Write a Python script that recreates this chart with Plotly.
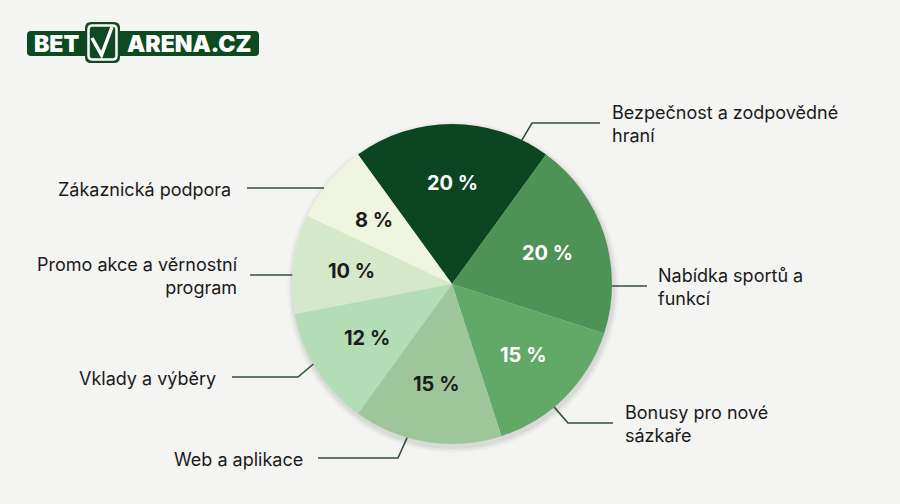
import plotly.graph_objects as go
import math

# ---- data ----
categories = ["Bezpečnost a zodpovědné hraní", "Nabídka sportů a funkcí", "Bonusy pro nové sázkaře",
              "Web a aplikace", "Vklady a výběry", "Promo akce a věrnostní program", "Zákaznická podpora"]
label_text = ["Bezpečnost a zodpovědné<br>hraní", "Nabídka sportů a<br>funkcí", "Bonusy pro nové<br>sázkaře",
              "Web a aplikace", "Vklady a výběry", "Promo akce a věrnostní<br>program", "Zákaznická podpora"]
shares = [20, 20, 15, 15, 12, 10, 8]
colors = ["#0b4521", "#4e9255", "#62a968", "#9dc79a", "#b2ddb5", "#d5e9ca", "#eff5e1"]
text_colors = ["#ffffff", "#ffffff", "#ffffff", "#1c1c1c", "#1c1c1c", "#1c1c1c", "#1c1c1c"]

W, H = 900, 504
CX, CY, R = 452, 284, 160
ROTATION = -36

def px(x):
    return x / W

def py(y):
    return 1 - y / H

fig = go.Figure()

# soft shadow behind pie
for k, a in [(6, 0.025), (4, 0.035), (2, 0.05)]:
    fig.add_shape(type="circle", xref="paper", yref="paper",
                  x0=px(CX - R - k + 1), x1=px(CX + R + k + 1),
                  y0=py(CY + R + k + 3), y1=py(CY - R - k + 3),
                  fillcolor=f"rgba(0,0,0,{a})", line_width=0, layer="below")

fig.add_trace(go.Pie(
    labels=categories, values=shares, sort=False, direction="clockwise", rotation=ROTATION,
    marker=dict(colors=colors, line=dict(width=0)),
    textinfo="none",
    hoverinfo="label+percent", showlegend=False,
    domain=dict(x=[px(CX - R), px(CX + R)], y=[py(CY + R), py(CY - R)]),
))

# percentage labels at each slice's mid-angle
total = sum(shares)
start = ROTATION
for v, tc in zip(shares, text_colors):
    mid = math.radians(start + 360 * v / total / 2)
    start += 360 * v / total
    lx, ly = CX + 0.63 * R * math.sin(mid), CY - 0.63 * R * math.cos(mid)
    fig.add_annotation(xref="paper", yref="paper", x=px(lx), y=py(ly), text=f"{v} %",
                       showarrow=False, xanchor="center", yanchor="middle",
                       font=dict(family="Inter", size=20, color=tc, weight=700))

# leader lines: (anchor angle on rim, elbow x, label y, line end x, text x, side)
leaders = [
    (25.9, 532, 123, 600, 610, "r"),
    (89.5, None, 286, 647, 656, "r"),
    (140.3, 568, 423, 613, 623, "r"),
    (196.3, 398, 458, 318, 305, "l"),
    (240.0, 298, 377, 232, 218, "l"),
    (273.2, None, 275, 250, 240, "l"),
    (306.9, None, 188, 247, 233, "l"),
]
for (ang, ex, ly, endx, tx, side), txt in zip(leaders, label_text):
    a = math.radians(ang)
    sx, sy = CX + R * math.sin(a), CY - R * math.cos(a)
    pts = [(sx, sy)]
    if ex is not None:
        pts.append((ex, ly))
    else:
        pts[0] = (sx, ly)
    pts.append((endx, ly))
    path = "M " + " L ".join(f"{px(x)},{py(y)}" for x, y in pts)
    fig.add_shape(type="path", xref="paper", yref="paper", path=path,
                  line=dict(color="#33503d", width=1.6))
    fig.add_annotation(xref="paper", yref="paper", x=px(tx), y=py(ly + 1),
                       text=txt, showarrow=False,
                       xanchor="left" if side == "r" else "right",
                       align="left" if side == "r" else "right",
                       yanchor="middle",
                       font=dict(family="Inter", size=18, color="#1a1a1a"))

# ---- logo ----
def rounded(x0, y0, x1, y1, r):
    return (f"M {px(x0 + r)},{py(y0)} L {px(x1 - r)},{py(y0)} "
            f"Q {px(x1)},{py(y0)} {px(x1)},{py(y0 + r)} L {px(x1)},{py(y1 - r)} "
            f"Q {px(x1)},{py(y1)} {px(x1 - r)},{py(y1)} L {px(x0 + r)},{py(y1)} "
            f"Q {px(x0)},{py(y1)} {px(x0)},{py(y1 - r)} L {px(x0)},{py(y0 + r)} "
            f"Q {px(x0)},{py(y0)} {px(x0 + r)},{py(y0)} Z")

logo_green = "#0d4a22"
fig.add_shape(type="path", xref="paper", yref="paper", path=rounded(27, 31, 259, 56, 4),
              fillcolor=logo_green, line_width=0)
fig.add_shape(type="path", xref="paper", yref="paper", path=rounded(85, 22, 120, 63, 6),
              fillcolor=logo_green, line_width=0)
fig.add_shape(type="path", xref="paper", yref="paper", path=rounded(88.5, 25.5, 116.5, 59.5, 4),
              fillcolor=logo_green, line=dict(color="white", width=2.5))
fig.add_shape(type="path", xref="paper", yref="paper",
              path=f"M {px(92)},{py(38)} L {px(101.5)},{py(55)} L {px(112)},{py(27)}",
              line=dict(color="white", width=3.5))
fig.add_annotation(xref="paper", yref="paper", x=px(56), y=py(44), text="BET", showarrow=False,
                   xanchor="center", yanchor="middle",
                   font=dict(family="Inter", size=23, color="white", weight=900))
fig.add_annotation(xref="paper", yref="paper", x=px(189), y=py(44), text="ARENA.CZ", showarrow=False,
                   xanchor="center", yanchor="middle",
                   font=dict(family="Inter", size=23, color="white", weight=900))

fig.update_layout(width=W, height=H, margin=dict(l=0, r=0, t=0, b=0),
                  paper_bgcolor="#f4f4f2", plot_bgcolor="#f4f4f2")

fig.write_html("out.html", config={"displayModeBar": False},
               post_script="document.body.style.margin='0';document.body.style.overflow='hidden';")
